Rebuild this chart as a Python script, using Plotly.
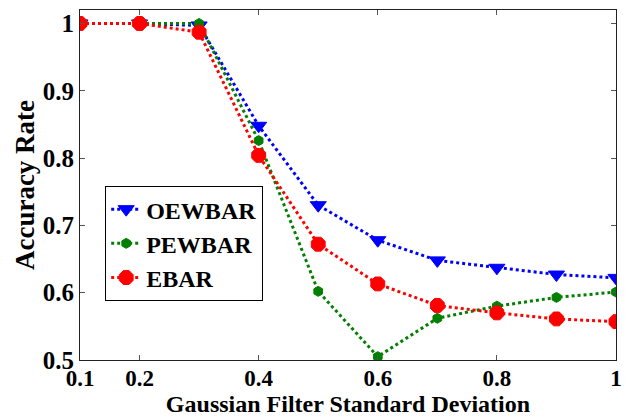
import plotly.graph_objects as go

x = [0.1, 0.2, 0.3, 0.4, 0.5, 0.6, 0.7, 0.8, 0.9, 1.0]
oewbar = [1.0, 1.0, 0.997, 0.848, 0.730, 0.678, 0.648, 0.637, 0.627, 0.622]
pewbar = [1.0, 1.0, 1.0, 0.826, 0.602, 0.505, 0.562, 0.580, 0.593, 0.601]
ebar = [1.0, 1.0, 0.987, 0.804, 0.672, 0.613, 0.581, 0.570, 0.561, 0.557]
xticks = [0.1, 0.2, 0.4, 0.6, 0.8, 1.0]
xlabels = ["0.1", "0.2", "0.4", "0.6", "0.8", "1"]
yticks = [0.5, 0.6, 0.7, 0.8, 0.9, 1.0]
ylabels = ["0.5", "0.6", "0.7", "0.8", "0.9", "1"]

font = "Liberation Serif"
fig = go.Figure()
fig.add_trace(go.Scatter(x=x, y=oewbar, name="<b>OEWBAR</b>", mode="lines+markers",
                         line=dict(color="#0000FF", width=3, dash="dot"),
                         marker=dict(symbol="triangle-down", size=14, color="#0000FF",
                                     line=dict(color="#0000FF", width=1))))
fig.add_trace(go.Scatter(x=x, y=pewbar, name="<b>PEWBAR</b>", mode="lines+markers",
                         line=dict(color="#007F00", width=3, dash="dot"),
                         marker=dict(symbol="hexagon", size=10, color="#007F00",
                                     line=dict(color="#007F00", width=1))))
fig.add_trace(go.Scatter(x=x, y=ebar, name="<b>EBAR</b>", mode="lines+markers",
                         line=dict(color="#FF0000", width=3, dash="dot"),
                         marker=dict(symbol="octagon", size=15, color="#FF0000",
                                     line=dict(color="#FF0000", width=1))))

fig.update_layout(
    width=634, height=419,
    margin=dict(l=80, r=18, t=10, b=59),
    paper_bgcolor="white", plot_bgcolor="white",
    font=dict(family=font, size=22, color="black"),
    showlegend=True,
    legend=dict(x=0.047, y=0.497, xanchor="left", yanchor="top",
                bgcolor="white", bordercolor="black", borderwidth=1,
                font=dict(family=font, size=24, color="black"),
                tracegroupgap=0, itemwidth=30),
    xaxis=dict(range=[0.1, 1.0], tickvals=xticks, automargin=False,
               ticktext=["<b>%s</b>" % t for t in xlabels],
               ticks="inside", ticklen=5, tickcolor="#555", mirror="ticks",
               showline=True, linecolor="#222", linewidth=1, showgrid=False, zeroline=False,
               ticklabelstandoff=-3,
               tickfont=dict(family=font, size=23),
               title=dict(text="<b>Gaussian Filter Standard Deviation</b>", standoff=2,
                          font=dict(family=font, size=24))),
    yaxis=dict(range=[0.5, 1.02], tickvals=yticks, automargin=False,
               ticktext=["<b>%s</b>" % t for t in ylabels],
               ticks="inside", ticklen=5, tickcolor="#555", mirror="ticks",
               showline=True, linecolor="#222", linewidth=1, showgrid=False, zeroline=False,
               ticklabelstandoff=0,
               tickfont=dict(family=font, size=25),
               title=dict(text="<b>Accuracy Rate</b>", standoff=0,
                          font=dict(family=font, size=27))),
)
fig.write_html("out.html")
